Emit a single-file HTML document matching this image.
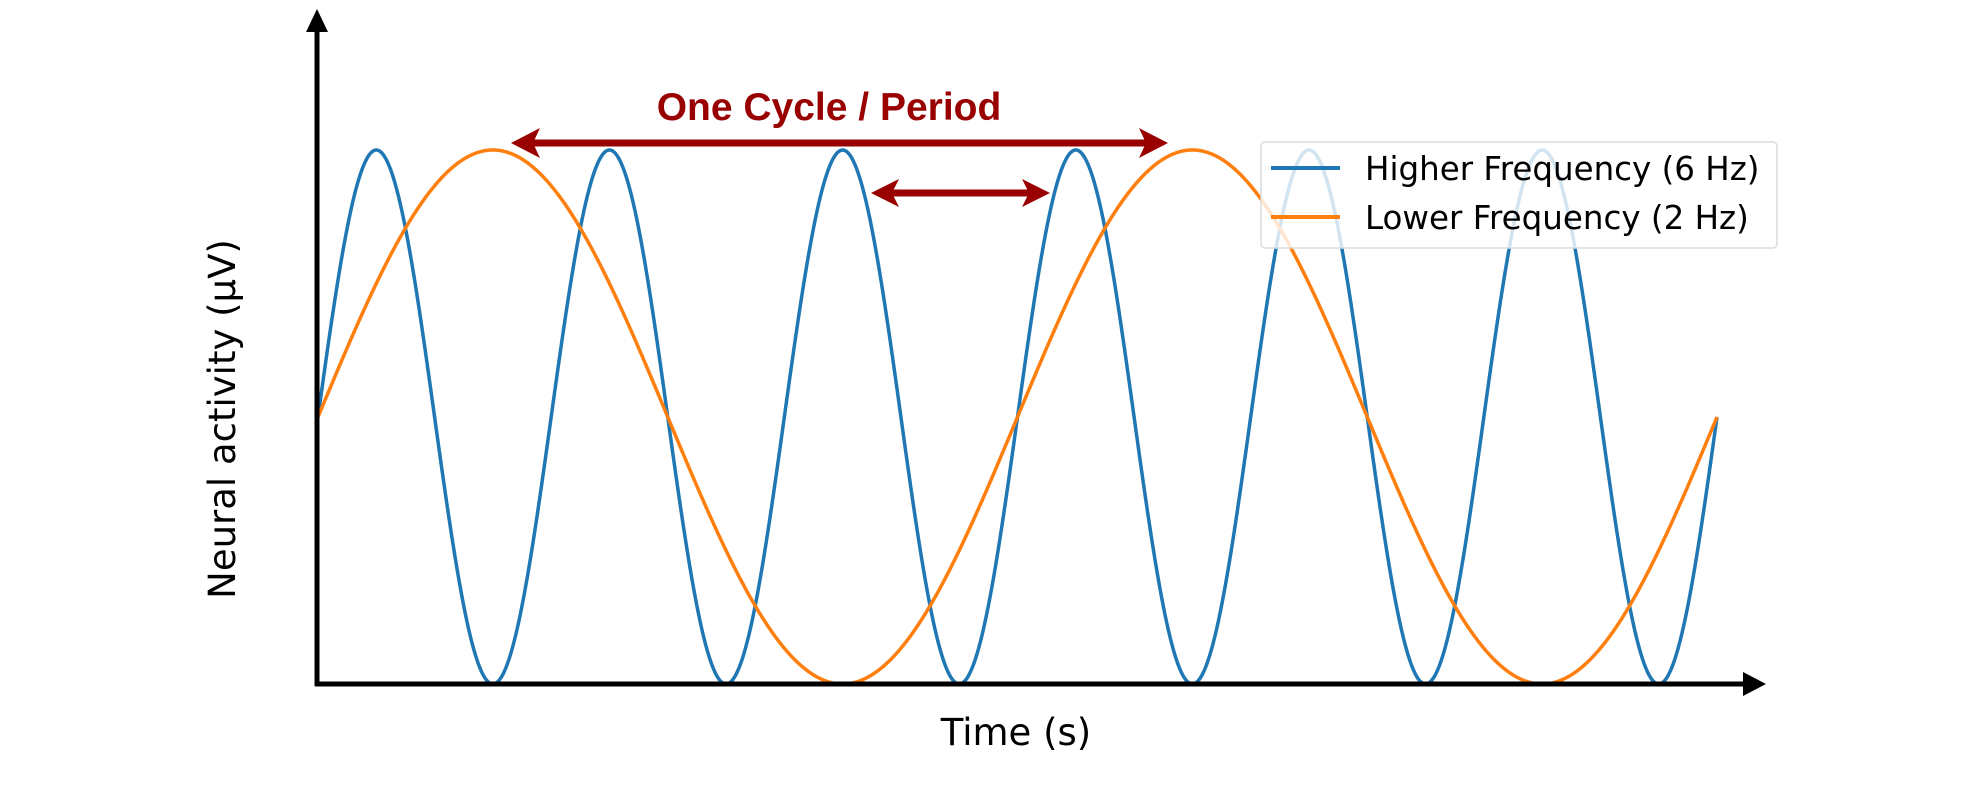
<!DOCTYPE html>
<html><head><meta charset="utf-8"><style>
html,body{margin:0;padding:0;background:#fff;}
svg{display:block;}
</style></head><body>
<svg id="chart" width="1988" height="796" viewBox="0 0 1988 796" xmlns="http://www.w3.org/2000/svg">
<g id="series"></g>
<line x1="317" y1="686" x2="317" y2="28" stroke="#000" stroke-width="5"/>
<polygon points="317,9 306,32 328,32" fill="#000"/>
<line x1="315" y1="684" x2="1748" y2="684" stroke="#000" stroke-width="5"/>
<polygon points="1766,684 1743,672 1743,696" fill="#000"/>
<text x="0" y="0" transform="translate(235,419) rotate(-90)" text-anchor="middle" font-family="DejaVu Sans, sans-serif" font-size="37" fill="#000">Neural activity (μV)</text>
<text x="1016" y="745" text-anchor="middle" font-family="DejaVu Sans, sans-serif" font-size="37" fill="#000">Time (s)</text>
<text x="829" y="120" text-anchor="middle" font-family="Liberation Sans, sans-serif" font-weight="bold" font-size="39" fill="#990000">One Cycle / Period</text>
<g fill="#990000">
<rect x="530" y="139.5" width="620" height="7"/>
<polygon points="511,143 540,128 533,143 540,158"/>
<polygon points="1168,143 1139,128 1146,143 1139,158"/>
</g>
<g fill="#990000">
<rect x="890" y="189.5" width="142" height="7"/>
<polygon points="871,193 899,179 892,193 899,207"/>
<polygon points="1050,193 1022,179 1029,193 1022,207"/>
</g>
<g>
<rect x="1261" y="142" width="516" height="106" rx="4" fill="rgba(255,255,255,0.8)" stroke="#dcdcdc" stroke-width="1.5"/>
<line x1="1271" y1="168" x2="1340" y2="168" stroke="#1f77b4" stroke-width="4"/>
<text x="1365" y="180" font-family="DejaVu Sans, sans-serif" font-size="32.5" fill="#000">Higher Frequency (6 Hz)</text>
<line x1="1271" y1="217" x2="1340" y2="217" stroke="#ff7f0e" stroke-width="4"/>
<text x="1365" y="229" font-family="DejaVu Sans, sans-serif" font-size="32.5" fill="#000">Lower Frequency (2 Hz)</text>
</g>
</svg>
<script>
const frequencies = [6, 2];
const seriesNames = ['high-frequency-wave', 'low-frequency-wave'];
const seriesColors = ['#1f77b4', '#ff7f0e'];
const timeRange = [0, 1];
const amplitudeRange = [-1, 1];
function xScale(t){ return 318 + (t - timeRange[0]) / (timeRange[1] - timeRange[0]) * (1717 - 318); }
function yScale(v){ return 684 - (v - amplitudeRange[0]) / (amplitudeRange[1] - amplitudeRange[0]) * (684 - 150); }
const g = document.getElementById('series');
frequencies.forEach(function(f, i){
  let d = '';
  const n = 1400;
  for (let k = 0; k <= n; k++){
    const t = timeRange[0] + (timeRange[1] - timeRange[0]) * k / n;
    const v = Math.sin(2 * Math.PI * f * t);
    d += (k ? 'L' : 'M') + xScale(t).toFixed(2) + ',' + yScale(v).toFixed(2);
  }
  const p = document.createElementNS('http://www.w3.org/2000/svg', 'path');
  p.setAttribute('d', d);
  p.setAttribute('fill', 'none');
  p.setAttribute('stroke', seriesColors[i]);
  p.setAttribute('stroke-width', '3.5');
  
  
  g.appendChild(p);
});
</script>
</body></html>
